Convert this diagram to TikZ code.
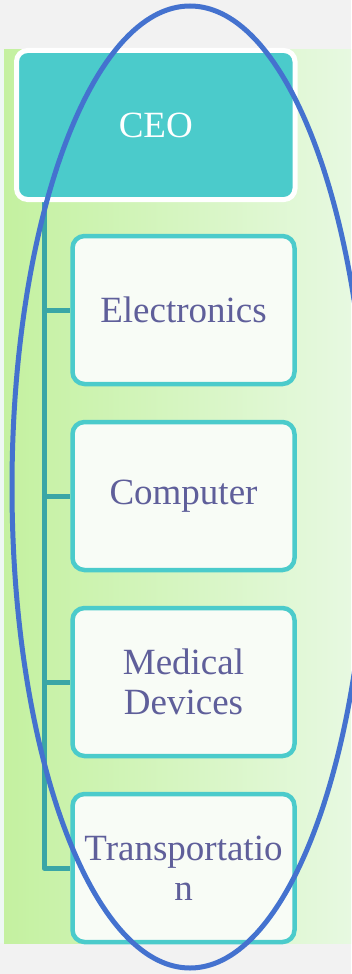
\documentclass[tikz,border=0pt]{standalone}
\usepackage{fontspec}
\setmainfont{Liberation Serif}
\definecolor{pagegray}{HTML}{F2F2F2}
\definecolor{edgestrip}{HTML}{EEF8F3}
\definecolor{greenL}{HTML}{C4F1A0}
\definecolor{greenR}{HTML}{E7F9E1}
\definecolor{teal}{HTML}{4BCBCB}
\definecolor{trunkteal}{HTML}{3AA6A6}
\definecolor{boxfill}{HTML}{F8FCF6}
\definecolor{labelpurple}{HTML}{5F5F9A}
\definecolor{ringblue}{HTML}{4472CF}
\pgfdeclarelayer{panel}
\pgfdeclarelayer{wires}
\pgfsetlayers{panel,wires,main}
\begin{document}
\begin{tikzpicture}[x=1pt,y=-1pt,
  headbox/.style={draw=white, line width=5pt, fill=teal, rounded corners=11pt,
    minimum width=278.5pt, minimum height=149pt, inner sep=0pt,
    text=white, font=\fontsize{37}{40}\selectfont},
  unitbox/.style={draw=teal, line width=4.5pt, fill=boxfill, rounded corners=12pt,
    minimum width=222pt, minimum height=148pt, inner sep=0pt, align=center,
    text=labelpurple, font=\fontsize{37}{40}\selectfont},
  link/.style={draw=trunkteal, line width=5pt, line join=round}]
  \useasboundingbox (0,0) rectangle (351,974);
  % page and shaded panel
  \begin{pgfonlayer}{panel}
    \fill[pagegray] (0,0) rectangle (351,974);
    \fill[edgestrip] (0,50) rectangle (4,943);
    \fill[left color=greenL, right color=greenR] (4,50) rectangle (351,943);
  \end{pgfonlayer}
  % boxes
  \node[headbox] (ceo) at (155.75,125) {CEO};
  \node[unitbox] (el) at (183.5,310) {Electronics};
  \node[unitbox] (co) at (183.5,496) {Computer};
  \node[unitbox] (md) at (183.5,682) {Medical\\Devices};
  \node[unitbox] (tr) at (183.5,868) {Transportatio\\n};
  % connectors, kept under the boxes
  \coordinate (trunk) at (44,199);
  \begin{pgfonlayer}{wires}
    \draw[link] (trunk) |- (tr.west);
    \draw[link] (trunk |- el.west) -- (el.west);
    \draw[link] (trunk |- co.west) -- (co.west);
    \draw[link] (trunk |- md.west) -- (md.west);
  \end{pgfonlayer}
  % highlight ring
  \draw[ringblue, line width=5pt] (190,487) ellipse [x radius=178, y radius=481];
\end{tikzpicture}
\end{document}
